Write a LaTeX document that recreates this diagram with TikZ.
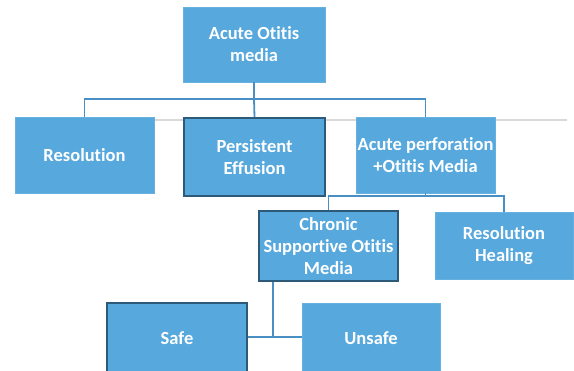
\documentclass[tikz,border=0pt]{standalone}
\usepackage{fontspec}
\setmainfont{Carlito}[Ligatures=NoCommon]
\definecolor{boxfill}{HTML}{56A8DD}
\definecolor{linec}{HTML}{4A8FC4}
\definecolor{darkb}{HTML}{2E5A7A}
\definecolor{grayl}{HTML}{D9D9D9}
\begin{document}
\begin{tikzpicture}[x=1pt,y=-1pt,
  box/.style={fill=boxfill,draw=boxfill!90!white,line width=0.6pt,text=white,font=\bfseries\fontsize{18.5}{22}\selectfont,align=center,inner sep=0pt},
  darkbox/.style={box,draw=darkb,line width=1.6pt},
  conn/.style={draw=linec,line width=1.8pt}]
\useasboundingbox (0,0) rectangle (574,371);
\clip (0,0) rectangle (574,371);
\draw[grayl,line width=1.2pt] (154,120) -- (567,120);
% nodes
\node[box,minimum width=142pt,minimum height=75pt] (aom) at (254,44.5) {Acute Otitis\\media};
\node[box,minimum width=139pt,minimum height=76pt] (res) at (84.5,155) {Resolution};
\node[darkbox,minimum width=141pt,minimum height=78pt] (pe) at (254.5,157) {Persistent\\Effusion};
\node[box,minimum width=139pt,minimum height=76pt] (ap) at (425.5,155) {Acute perforation\\+Otitis Media};
\node[darkbox,minimum width=139pt,minimum height=70pt] (cs) at (328.5,246) {Chronic\\Supportive Otitis\\Media};
\node[box,minimum width=138pt,minimum height=67pt] (rh) at (504,245.5) {Resolution\\Healing};
\node[darkbox,minimum width=140pt,minimum height=70pt] (safe) at (177,338) {Safe};
\node[box,minimum width=138pt,minimum height=70pt] (unsafe) at (371,338) {Unsafe};
% connectors
\coordinate (j1) at (254,99);
\draw[conn] (aom.south) -- (j1);
\draw[conn] (res.north) |- (j1) -| (ap.north);
\draw[conn] (j1) -- (pe.north);
\coordinate (j2) at (425.5,196);
\draw[conn] (ap.south) -- (j2);
\draw[conn] (cs.north) |- (j2) -| (rh.north);
\coordinate (j3) at (273,337);
\draw[conn] (cs.south -| j3) -- (j3);
\draw[conn] (safe.east |- j3) -- (unsafe.west |- j3);
\end{tikzpicture}
\end{document}
